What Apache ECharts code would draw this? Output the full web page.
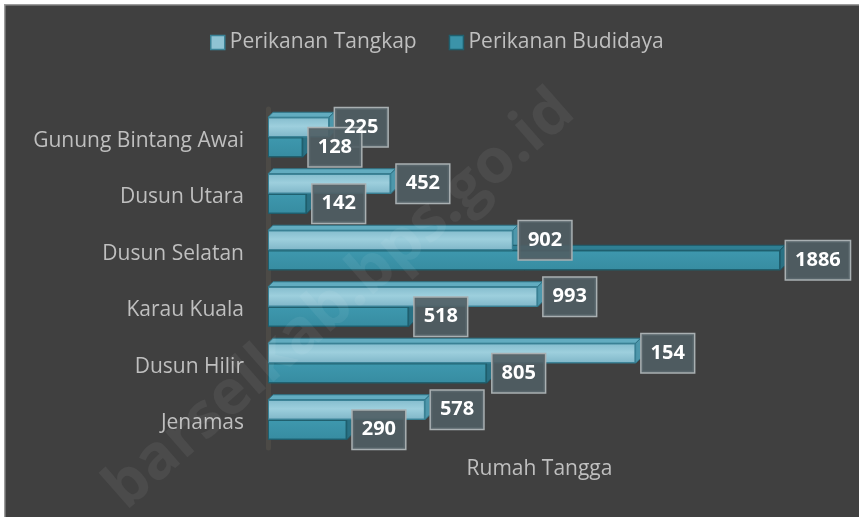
<!DOCTYPE html>
<html>
<head>
<meta charset="utf-8">
<script src="https://cdn.jsdelivr.net/npm/echarts@6/dist/echarts.min.js"></script>
<style>
  html, body { margin: 0; padding: 0; background: #ffffff; }
  #main { width: 859px; height: 517px; }
</style>
</head>
<body>
<div id="main"></div>
<script>
// data
var categories = ["Gunung Bintang Awai", "Dusun Utara", "Dusun Selatan", "Karau Kuala", "Dusun Hilir", "Jenamas"];
var tangkap = [225, 452, 902, 993, 1354, 578];
// the source chart prints "154" on the Dusun Hilir bar
var tangkapLabels = ["225", "452", "902", "993", "154", "578"];
var budidaya = [128, 142, 1886, 518, 805, 290];
var seriesNames = ["Perikanan Tangkap", "Perikanan Budidaya"];

var BAR_W = 20;
var DEPTH = 5;

var myChart = echarts.init(document.getElementById("main"));

// one row per bar: [value, category index, series index]
var barRows = [];
tangkap.forEach(function (v, i) { barRows.push([v, i, 0]); });
budidaya.forEach(function (v, i) { barRows.push([v, i, 1]); });

var faceColors = [
  { top: "#62acc0", side: "#4d97ab", stroke: "#2f7487" },
  { top: "#2f7f93", side: "#2a7184", stroke: "#1d5968" }
];

// top + right end faces for the 3d look, drawn under the bars
function renderFace(params, api) {
  var val = api.value(0);
  var cat = api.value(1);
  var s = api.value(2);
  var p0 = api.coord([0, cat]);
  var p1 = api.coord([val, cat]);
  var y0 = p0[1] + (s === 0 ? -BAR_W : 0);
  var x0 = p0[0];
  var x1 = p1[0];
  var c = faceColors[s];
  return {
    type: "group",
    children: [
      {
        type: "polygon",
        shape: { points: [[x0, y0], [x1, y0], [x1 + DEPTH, y0 - DEPTH], [x0 + DEPTH, y0 - DEPTH]] },
        style: { fill: c.top, stroke: c.stroke, lineWidth: 1 }
      },
      {
        type: "polygon",
        shape: { points: [[x1, y0], [x1 + DEPTH, y0 - DEPTH], [x1 + DEPTH, y0 + BAR_W - DEPTH], [x1, y0 + BAR_W]] },
        style: { fill: c.side, stroke: c.stroke, lineWidth: 1 }
      }
    ]
  };
}

// value boxes: all boxes first, then all numbers on top
function renderLabel(params, api) {
  var val = api.value(0);
  var cat = api.value(1);
  var s = api.value(2);
  var p = api.coord([val, cat]);
  var yc = p[1] + (s === 0 ? -BAR_W / 2 : BAR_W / 2);
  var txt = s === 0 ? tangkapLabels[cat] : String(budidaya[cat]);
  var base = {
    text: txt,
    font: "bold 20px Open Sans",
    lineHeight: 24,
    align: "left",
    verticalAlign: "middle",
    padding: [7, 9]
  };
  return {
    type: "group",
    children: [
      {
        type: "text",
        z2: s === 0 ? 1 : 2,
        x: p[0] + 6,
        y: yc,
        style: Object.assign({}, base, {
          fill: "rgba(0,0,0,0)",
          backgroundColor: "rgba(80,94,100,0.9)",
          borderColor: "#a9b0b2",
          borderWidth: 1.5
        })
      },
      {
        type: "text",
        z2: 5,
        x: p[0] + 6,
        y: yc,
        style: Object.assign({}, base, { fill: "#ffffff" })
      }
    ]
  };
}

var option = {
  backgroundColor: "#404040",
  textStyle: { fontFamily: "Open Sans" },
  graphic: [
    { type: "rect", shape: { x: 0, y: 0, width: 859, height: 4 }, style: { fill: "#ffffff" }, z: 100 },
    { type: "rect", shape: { x: 0, y: 0, width: 4, height: 517 }, style: { fill: "#ffffff" }, z: 100 },
    { type: "rect", shape: { x: 4, y: 4, width: 855, height: 1.5 }, style: { fill: "#9c9c9c" }, z: 100 },
    { type: "rect", shape: { x: 4, y: 4, width: 1.5, height: 513 }, style: { fill: "#9c9c9c" }, z: 100 },
    {
      type: "text",
      x: 340, y: 300,
      rotation: 0.72,
      z: 50,
      style: {
        text: "barselkab.bps.go.id",
        fill: "rgba(255,255,255,0.06)",
        font: "bold 62px Open Sans",
        align: "center",
        verticalAlign: "middle"
      }
    }
  ],
  legend: {
    top: 27,
    left: 205,
    itemWidth: 14,
    itemHeight: 14,
    itemGap: 32,
    icon: "rect",
    data: [
      { name: seriesNames[0], itemStyle: { color: "#8fc3d3", borderColor: "#3a8296", borderWidth: 1.5 } },
      { name: seriesNames[1], itemStyle: { color: "#3b93a9", borderColor: "#1f5f6e", borderWidth: 1.5 } }
    ],
    textStyle: { color: "#bfbfbf", fontSize: 21, fontFamily: "Open Sans" }
  },
  grid: {
    left: 268,
    right: 48,
    top: 109,
    bottom: 69,
    containLabel: false
  },
  xAxis: {
    type: "value",
    min: 0,
    max: 2000,
    interval: 500,
    name: "Rumah Tangga",
    nameLocation: "middle",
    nameGap: 11,
    nameTextStyle: { color: "#bfbfbf", fontSize: 21, verticalAlign: "top" },
    axisLine: { show: false },
    axisTick: { show: false },
    axisLabel: { show: false },
    splitLine: { show: false }
  },
  yAxis: {
    type: "category",
    inverse: true,
    data: categories,
    axisLine: { show: true, lineStyle: { color: "#4c4a46", width: 5 } },
    axisTick: { show: false },
    axisLabel: {
      color: "#bfbfbf",
      fontSize: 21,
      margin: 24,
      formatter: function (v) { return "{c|" + v + "}"; },
      rich: { c: { color: "#bfbfbf", fontSize: 21, padding: [7, 0, 0, 0] } }
    }
  },
  series: [
    {
      type: "custom",
      renderItem: renderFace,
      data: barRows,
      encode: { x: 0, y: 1 },
      z: 1,
      silent: true
    },
    {
      name: seriesNames[0],
      type: "bar",
      data: tangkap,
      barWidth: BAR_W,
      barGap: "0%",
      z: 3,
      itemStyle: {
        color: new echarts.graphic.LinearGradient(0, 0, 0, 1, [
          { offset: 0, color: "#84bccd" },
          { offset: 0.45, color: "#9dcfdd" },
          { offset: 1, color: "#7fb6c8" }
        ]),
        borderColor: "#3a8296",
        borderWidth: 1
      }
    },
    {
      name: seriesNames[1],
      type: "bar",
      data: budidaya,
      barWidth: BAR_W,
      barGap: "0%",
      z: 2,
      itemStyle: {
        color: new echarts.graphic.LinearGradient(0, 0, 0, 1, [
          { offset: 0, color: "#3e98ae" },
          { offset: 1, color: "#378ca1" }
        ]),
        borderColor: "#1f5f6e",
        borderWidth: 1
      }
    },
    {
      type: "custom",
      renderItem: renderLabel,
      data: barRows,
      encode: { x: 0, y: 1 },
      z: 10,
      silent: true
    }
  ]
};

myChart.setOption(option);
</script>
</body>
</html>
